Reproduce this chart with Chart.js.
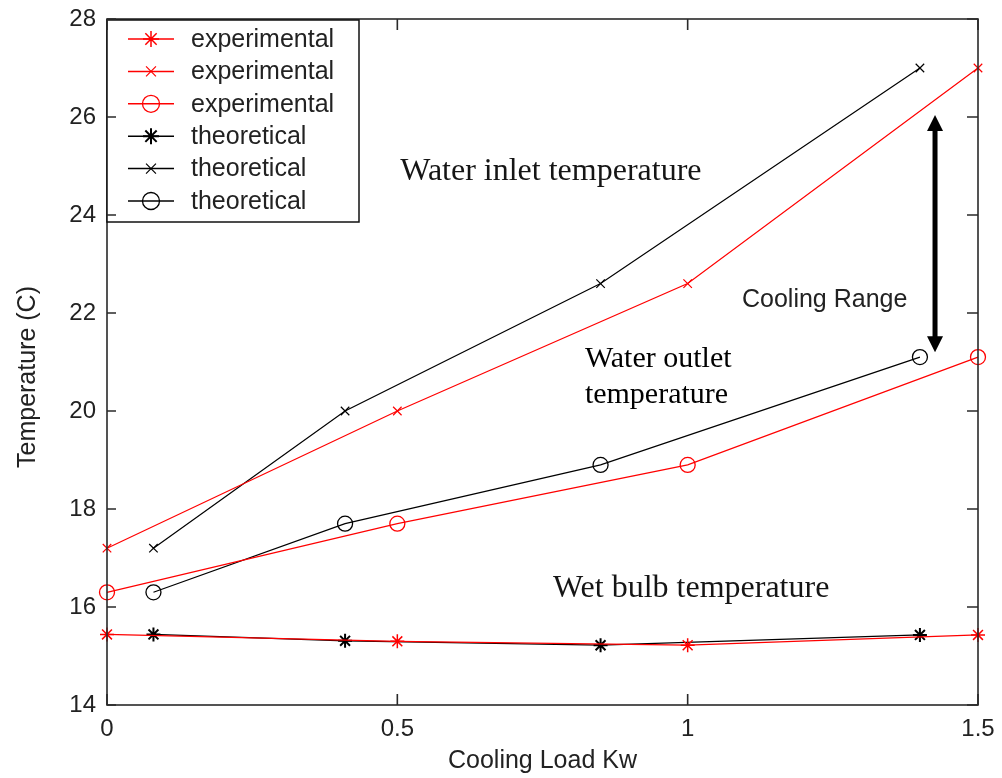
<!DOCTYPE html>
<html>
<head>
<meta charset="utf-8">
<script src="https://cdn.jsdelivr.net/npm/chart.js@4/dist/chart.umd.min.js"></script>
<style>
  html, body { margin: 0; padding: 0; background: #fff; }
  #wrap { width: 1002px; height: 778px; }
</style>
</head>
<body>
<div id="wrap"><canvas id="chart" width="1002" height="778"></canvas></div>
<script>
// cooling load (kW) at which each set was measured / computed
const expLoad = [0, 0.5, 1, 1.5];
const theoLoad = [0.08, 0.41, 0.85, 1.4];

// temperatures (C)
const expWetBulb = [15.44, 15.3, 15.22, 15.43];
const expInlet = [17.2, 20, 22.6, 27];
const expOutlet = [16.3, 17.7, 18.9, 21.1];
const theoWetBulb = [15.44, 15.31, 15.22, 15.43];
const theoInlet = [17.2, 20, 22.6, 27];
const theoOutlet = [16.3, 17.7, 18.9, 21.1];

const xTicks = [0, 0.5, 1, 1.5];
const yTicks = [14, 16, 18, 20, 22, 24, 26, 28];

const SANS = '"Liberation Sans", Arial, sans-serif';
const SERIF = '"Liberation Serif", "Times New Roman", serif';

function pts(xs, ys) {
  return xs.map((x, i) => ({ x: x, y: ys[i] }));
}

function series(label, xs, ys, color, style, radius, bw) {
  return {
    label: label,
    data: pts(xs, ys),
    showLine: true,
    borderColor: color,
    backgroundColor: 'rgba(0,0,0,0)',
    borderWidth: 1.2,
    pointStyle: style,
    pointRadius: radius,
    pointBorderColor: color,
    pointBackgroundColor: 'rgba(0,0,0,0)',
    pointBorderWidth: bw,
    clip: false
  };
}

// frame, inward ticks, legend and the text notes
const decor = {
  id: 'decor',
  afterDraw(chart) {
    const ctx = chart.ctx;
    const a = chart.chartArea;
    const xs = chart.scales.x, ys = chart.scales.y;
    ctx.save();

    // box
    ctx.strokeStyle = '#2a2a2a';
    ctx.lineWidth = 1.6;
    ctx.strokeRect(a.left, a.top, a.right - a.left, a.bottom - a.top);

    // legend
    const lx = a.left, ly = a.top + 1, lw = 252, lh = 202;
    ctx.fillStyle = '#fff';
    ctx.fillRect(lx, ly, lw, lh);
    ctx.strokeStyle = '#111';
    ctx.lineWidth = 1.5;
    ctx.strokeRect(lx, ly, lw, lh);
    chart.data.datasets.forEach((ds, i) => {
      const y = ly + 19 + i * 32.4;
      ctx.strokeStyle = ds.borderColor;
      ctx.lineWidth = 1.5;
      ctx.beginPath();
      ctx.moveTo(lx + 21, y);
      ctx.lineTo(lx + 67, y);
      ctx.stroke();
      ctx.lineWidth = ds.pointBorderWidth;
      ctx.fillStyle = 'rgba(0,0,0,0)';
      Chart.helpers.drawPoint(ctx, {
        pointStyle: ds.pointStyle, radius: ds.pointRadius + 1,
        borderWidth: ds.pointBorderWidth, rotation: 0
      }, lx + 44, y);
      ctx.fillStyle = '#222';
      ctx.font = '25px ' + SANS;
      ctx.textBaseline = 'middle';
      ctx.textAlign = 'left';
      ctx.fillText(ds.label, lx + 84, y + 1);
    });

    // inward ticks on all four sides
    ctx.strokeStyle = '#2a2a2a';
    ctx.lineWidth = 1.6;
    ctx.beginPath();
    yTicks.forEach(v => {
      const p = ys.getPixelForValue(v);
      ctx.moveTo(a.left, p); ctx.lineTo(a.left + 9, p);
      ctx.moveTo(a.right, p); ctx.lineTo(a.right - 11, p);
    });
    xTicks.forEach(v => {
      const p = xs.getPixelForValue(v);
      ctx.moveTo(p, a.bottom); ctx.lineTo(p, a.bottom - 11);
      ctx.moveTo(p, a.top); ctx.lineTo(p, a.top + 11);
    });
    ctx.stroke();

    // axis titles
    ctx.fillStyle = '#222';
    ctx.font = '25px ' + SANS;
    ctx.textAlign = 'center';
    ctx.textBaseline = 'alphabetic';
    ctx.fillText('Cooling Load Kw', (a.left + a.right) / 2, 768);
    ctx.save();
    ctx.translate(35, 377);
    ctx.rotate(-Math.PI / 2);
    ctx.fillText('Temperature (C)', 0, 0);
    ctx.restore();

    // notes
    ctx.textAlign = 'left';
    ctx.fillStyle = '#151515';
    ctx.font = '32px ' + SERIF;
    ctx.fillText('Water inlet temperature', xs.getPixelForValue(0.505), ys.getPixelForValue(24.71));
    ctx.fillText('Wet bulb temperature', xs.getPixelForValue(0.768), ys.getPixelForValue(16.2));
    ctx.fillStyle = '#000';
    ctx.font = '30px ' + SERIF;
    ctx.fillText('Water outlet', xs.getPixelForValue(0.823), ys.getPixelForValue(20.9));
    ctx.fillText('temperature', xs.getPixelForValue(0.823), ys.getPixelForValue(20.16));
    ctx.fillStyle = '#222';
    ctx.font = '25px ' + SANS;
    ctx.fillText('Cooling Range', xs.getPixelForValue(1.0935), ys.getPixelForValue(22.12));

    // double-headed arrow for the cooling range
    const ax = xs.getPixelForValue(1.426);
    const top = ys.getPixelForValue(26.04), bot = ys.getPixelForValue(21.2);
    ctx.strokeStyle = '#000';
    ctx.fillStyle = '#000';
    ctx.lineWidth = 5;
    ctx.beginPath();
    ctx.moveTo(ax, top + 10); ctx.lineTo(ax, bot - 10);
    ctx.stroke();
    ctx.beginPath();
    ctx.moveTo(ax, top); ctx.lineTo(ax - 8, top + 16); ctx.lineTo(ax + 8, top + 16); ctx.closePath();
    ctx.moveTo(ax, bot); ctx.lineTo(ax - 8, bot - 16); ctx.lineTo(ax + 8, bot - 16); ctx.closePath();
    ctx.fill();

    ctx.restore();
  }
};

const RED = '#ff0000';
const BLACK = '#000000';

new Chart(document.getElementById('chart'), {
  type: 'scatter',
  data: {
    datasets: [
      series('experimental', expLoad, expWetBulb, RED, 'star', 7, 1.5),
      series('experimental', expLoad, expInlet, RED, 'crossRot', 6, 1.2),
      series('experimental', expLoad, expOutlet, RED, 'circle', 7.5, 1.3),
      series('theoretical', theoLoad, theoWetBulb, BLACK, 'star', 7, 2),
      series('theoretical', theoLoad, theoInlet, BLACK, 'crossRot', 6, 1.2),
      series('theoretical', theoLoad, theoOutlet, BLACK, 'circle', 7.5, 1.3)
    ]
  },
  options: {
    responsive: false,
    animation: false,
    layout: { padding: { left: 0, right: 24, top: 19, bottom: 0 } },
    plugins: { legend: { display: false }, tooltip: { enabled: false } },
    scales: {
      x: {
        type: 'linear', min: 0, max: 1.5,
        grid: { display: false, drawTicks: false },
        border: { display: false },
        ticks: {
          stepSize: 0.5, padding: 10, color: '#222', maxRotation: 0,
          font: { family: SANS, size: 24 },
          callback: v => String(v)
        },
        afterFit(scale) {
          scale.height = 73;
          scale.paddingLeft = 0; scale.paddingRight = 0;
        }
      },
      y: {
        min: 14, max: 28,
        grid: { display: false, drawTicks: false },
        border: { display: false },
        ticks: {
          stepSize: 2, padding: 11, color: '#222',
          font: { family: SANS, size: 24 }
        },
        afterFit(scale) {
          scale.width = 107;
          scale.paddingTop = 0; scale.paddingBottom = 0;
        }
      }
    }
  },
  plugins: [decor]
});
</script>
</body>
</html>
